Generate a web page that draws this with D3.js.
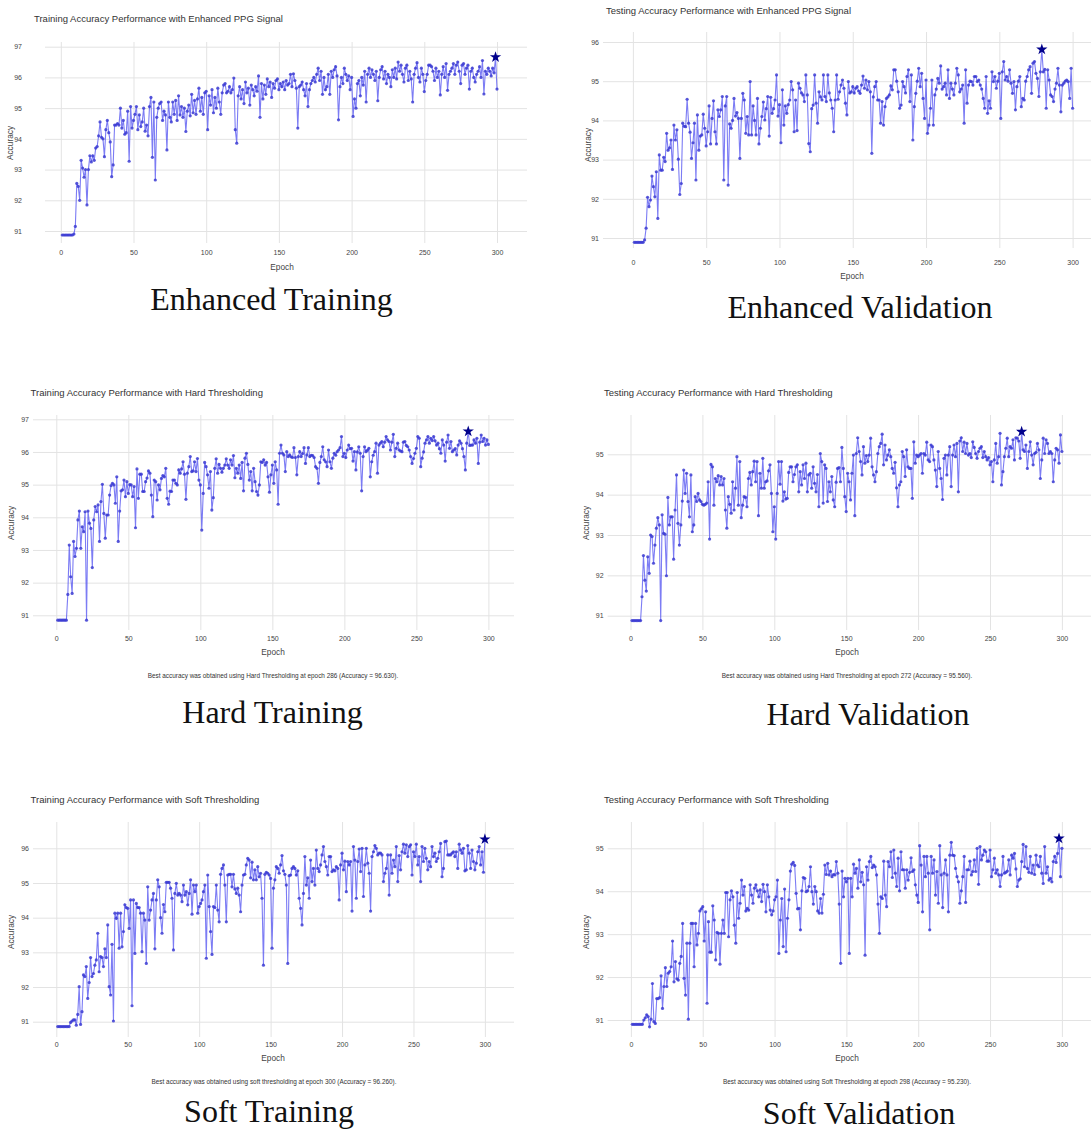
<!DOCTYPE html>
<html>
<head>
<meta charset="utf-8">
<script src="https://cdn.jsdelivr.net/npm/d3@7"></script>
<style>
  body { margin: 0; background: #fff; }
  svg { display: block; }
</style>
</head>
<body>
<svg id="chart" width="1091" height="1133"></svg>
<script>
// epochs run 1..300, one value per epoch
const epochTicks = [0, 50, 100, 150, 200, 250, 300];

const enhancedTrain = [
  90.87, 90.87, 90.87, 90.87, 90.87, 90.87, 90.87, 90.87, 90.90, 91.15,
  92.55, 92.45, 92.00, 93.30, 93.05, 92.75, 93.00, 91.85, 93.00, 93.45,
  93.25, 93.45, 93.30, 93.70, 93.75, 94.10, 94.55, 94.05, 94.00, 93.42,
  94.30, 94.60, 94.20, 93.90, 92.77, 93.15, 94.45, 94.45, 94.50, 94.45,
  95.00, 94.35, 94.60, 94.15, 94.20, 94.90, 93.27, 95.05, 94.35, 94.60,
  94.80, 95.05, 94.30, 94.78, 94.40, 94.55, 95.00, 94.25, 94.45, 94.10,
  95.05, 95.35, 93.40, 95.20, 92.66, 94.70, 95.00, 95.15, 95.20, 94.60,
  94.90, 94.78, 93.64, 95.20, 94.70, 94.55, 95.20, 94.80, 95.25, 94.60,
  95.40, 94.78, 95.05, 94.70, 95.00, 94.24, 94.90, 95.10, 94.75, 95.45,
  94.85, 95.25, 94.80, 95.30, 95.65, 94.90, 95.35, 94.80, 95.50, 95.55,
  94.30, 95.40, 95.10, 95.60, 94.85, 95.35, 95.00, 95.65, 95.20, 94.80,
  95.50, 95.75, 95.80, 95.50, 95.55, 95.70, 95.50, 95.60, 95.98, 94.30,
  93.86, 95.40, 95.70, 95.30, 95.60, 95.15, 95.85, 95.50, 95.65, 95.10,
  95.75, 95.60, 95.40, 95.70, 95.55, 96.05, 94.70, 95.80, 95.30, 95.75,
  95.45, 95.95, 95.70, 95.85, 95.35, 95.80, 95.65, 95.90, 95.95, 95.60,
  95.80, 95.70, 95.85, 95.60, 95.90, 95.75, 95.80, 96.10, 95.70, 96.12,
  95.90, 95.65, 94.35, 95.70, 95.75, 95.85, 95.60, 95.40, 95.80, 95.05,
  95.60, 95.80, 95.90, 96.00, 95.85, 96.10, 96.30, 95.90, 96.20, 95.45,
  96.00, 95.60, 95.70, 96.10, 95.45, 96.20, 96.00, 96.25, 96.35, 96.05,
  94.62, 95.70, 96.00, 95.80, 96.30, 96.10, 95.90, 96.05, 95.60, 96.00,
  94.73, 95.30, 95.00, 95.80, 95.90, 95.40, 96.00, 95.75, 96.20, 95.20,
  96.10, 96.30, 96.00, 96.25, 96.10, 95.90, 96.20, 95.24, 96.00, 96.25,
  96.35, 95.95, 96.20, 95.80, 96.10, 96.00, 95.70, 96.25, 96.00, 96.30,
  95.95, 96.50, 96.20, 96.40, 96.10, 95.85, 96.30, 96.40, 95.90, 96.20,
  95.95, 95.20, 96.10, 96.30, 96.48, 96.00, 95.85, 96.30, 96.10, 95.54,
  95.90, 96.10, 96.40, 96.40, 96.35, 96.20, 95.90, 96.30, 96.00, 96.20,
  95.43, 96.10, 96.35, 96.00, 96.45, 95.58, 96.10, 96.20, 96.30, 96.45,
  96.10, 96.40, 96.50, 96.20, 95.80, 96.40, 96.45, 96.10, 96.30, 96.40,
  95.62, 96.20, 96.30, 96.00, 95.85, 96.10, 96.20, 96.35, 96.00, 96.55,
  95.46, 96.20, 96.10, 96.30, 96.20, 96.05, 96.30, 96.15, 96.66, 95.62
];

const enhancedVal = [
  90.89, 90.89, 90.89, 90.89, 90.89, 90.89, 90.89, 90.95, 91.25, 92.04,
  91.80, 91.97, 92.58, 92.31, 92.05, 92.69, 91.50, 93.12, 92.73, 92.73,
  93.06, 92.95, 93.67, 93.24, 93.30, 93.50, 92.75, 93.88, 93.50, 93.76,
  93.01, 92.11, 92.39, 93.93, 93.85, 93.84, 94.54, 93.93, 93.70, 93.03,
  93.43, 93.93, 92.48, 94.14, 93.24, 93.60, 93.63, 94.16, 93.80, 93.35,
  93.71, 94.37, 93.40, 94.05, 94.50, 93.71, 93.40, 94.27, 94.10, 94.27,
  94.61, 92.48, 94.37, 94.61, 92.35, 93.91, 93.80, 94.00, 94.56, 94.11,
  94.20, 94.05, 93.03, 94.05, 94.69, 94.52, 93.67, 94.10, 93.63, 94.99,
  93.63, 94.37, 94.00, 93.63, 94.56, 93.40, 93.80, 94.10, 94.47, 94.01,
  94.30, 94.61, 93.60, 94.59, 94.18, 94.30, 94.52, 95.16, 94.11, 94.40,
  93.43, 94.78, 93.88, 94.37, 94.18, 94.40, 94.52, 94.99, 94.78, 93.71,
  94.52, 93.74, 94.95, 94.82, 94.70, 94.65, 94.48, 95.16, 94.65, 93.41,
  93.20, 94.30, 94.39, 95.16, 94.44, 93.93, 94.73, 94.60, 94.52, 95.16,
  94.61, 94.48, 95.16, 94.70, 94.52, 94.31, 93.71, 94.52, 95.16, 94.54,
  94.73, 94.90, 95.03, 94.82, 94.44, 94.14, 94.99, 94.70, 94.73, 94.86,
  94.70, 94.82, 94.86, 94.75, 94.69, 94.90, 95.13, 94.82, 95.03, 94.78,
  94.99, 94.73, 93.16, 94.60, 94.86, 94.99, 94.52, 94.52, 93.93, 94.48,
  93.88, 94.35, 94.56, 94.60, 94.65, 94.88, 94.78, 95.29, 95.29, 95.00,
  94.73, 94.31, 94.39, 94.99, 94.86, 94.70, 95.12, 95.29, 94.48, 95.16,
  93.50, 94.35, 94.69, 95.00, 95.33, 94.86, 95.20, 94.56, 94.05, 95.03,
  93.67, 93.88, 94.31, 95.03, 93.88, 94.65, 94.80, 95.07, 94.95, 95.39,
  94.80, 94.86, 94.95, 94.65, 95.29, 94.56, 94.95, 94.80, 94.65, 94.95,
  95.33, 95.16, 94.73, 94.80, 94.90, 93.93, 95.29, 94.44, 94.90, 95.00,
  94.99, 94.90, 95.12, 95.12, 94.99, 95.03, 94.90, 94.80, 94.56, 94.31,
  95.12, 94.18, 94.50, 94.31, 95.24, 94.99, 95.12, 94.82, 95.00, 95.20,
  94.05, 95.24, 95.50, 95.03, 95.12, 95.00, 95.29, 94.95, 94.69, 94.99,
  94.27, 94.86, 95.00, 95.12, 94.35, 94.56, 94.52, 95.00, 95.12, 95.29,
  95.37, 94.69, 95.46, 95.50, 95.20, 95.07, 94.61, 95.24, 95.81, 95.24,
  95.30, 94.31, 95.29, 95.03, 94.65, 94.61, 94.48, 94.80, 94.95, 95.33,
  94.90, 94.22, 94.90, 94.95, 95.00, 95.03, 94.99, 94.56, 95.33, 94.31
];

const hardTrain = [
  90.85, 90.85, 90.85, 90.85, 90.85, 90.85, 90.85, 91.64, 93.15, 92.18,
  91.67, 93.26, 92.80, 93.05, 93.92, 94.19, 93.05, 93.71, 93.56, 94.17,
  90.85, 94.19, 93.82, 93.66, 92.46, 93.92, 94.33, 94.17, 94.38, 93.26,
  94.48, 95.01, 94.12, 93.36, 94.07, 94.07, 94.68, 94.97, 95.04, 94.99,
  94.43, 95.24, 93.26, 94.19, 94.81, 94.84, 95.14, 94.63, 95.09, 94.73,
  95.00, 94.99, 94.63, 94.94, 93.68, 95.48, 94.58, 95.32, 95.32, 94.79,
  94.79, 95.09, 95.20, 95.42, 95.35, 94.68, 94.02, 95.14, 95.09, 94.53,
  94.99, 94.84, 95.19, 95.28, 95.24, 95.50, 94.58, 94.40, 94.80, 94.79,
  95.14, 95.14, 95.04, 94.99, 95.45, 95.35, 95.48, 95.70, 95.32, 94.55,
  95.35, 95.55, 95.86, 95.40, 95.42, 95.70, 95.40, 95.80, 95.14, 94.99,
  93.61, 94.73, 95.68, 95.55, 95.30, 94.89, 95.40, 94.22, 94.60, 95.50,
  95.79, 95.35, 95.62, 95.50, 95.38, 95.50, 95.60, 95.79, 95.60, 95.50,
  95.76, 95.60, 95.89, 95.21, 95.50, 95.35, 95.60, 95.19, 95.68, 94.81,
  95.81, 95.96, 95.62, 95.14, 95.40, 94.81, 95.50, 95.09, 94.79, 94.68,
  94.99, 95.70, 95.68, 95.76, 95.60, 95.68, 95.24, 94.77, 95.30, 95.60,
  95.04, 95.70, 95.45, 94.40, 95.96, 96.21, 95.96, 95.91, 95.40, 96.01,
  95.86, 95.91, 95.85, 95.83, 96.13, 95.83, 95.30, 95.86, 96.01, 95.86,
  95.95, 96.13, 95.65, 95.91, 96.13, 95.86, 95.90, 95.89, 95.83, 95.55,
  95.50, 95.04, 95.68, 95.86, 96.16, 95.76, 95.70, 95.55, 96.06, 95.70,
  95.50, 95.81, 95.96, 95.90, 96.01, 96.06, 96.13, 96.47, 95.86, 95.96,
  95.83, 96.06, 96.21, 96.10, 96.11, 95.72, 96.01, 95.45, 96.00, 96.16,
  95.96, 94.81, 95.86, 96.16, 96.01, 96.05, 96.11, 95.24, 95.70, 95.90,
  96.01, 96.27, 95.35, 96.21, 96.27, 96.32, 96.16, 96.30, 96.47, 96.37,
  96.32, 96.06, 96.30, 96.54, 95.86, 96.11, 96.27, 96.06, 96.03, 96.01,
  96.30, 96.32, 96.20, 96.16, 96.06, 95.86, 95.65, 95.80, 95.96, 96.11,
  96.47, 96.42, 95.55, 95.81, 96.00, 96.27, 96.37, 96.47, 96.27, 96.42,
  96.35, 96.47, 96.34, 96.21, 96.27, 96.10, 95.96, 96.37, 96.21, 95.72,
  96.30, 96.52, 96.11, 96.32, 96.01, 96.06, 96.10, 95.91, 96.21, 96.34,
  96.27, 96.10, 95.86, 95.45, 96.27, 96.63, 96.20, 96.21, 96.21, 96.37,
  96.27, 96.42, 95.65, 96.30, 96.52, 96.32, 96.42, 96.21, 96.37, 96.23
];

const hardVal = [
  90.88, 90.88, 90.88, 90.88, 90.88, 90.88, 90.88, 91.47, 92.49, 91.88,
  91.61, 92.46, 92.05, 93.00, 92.96, 92.30, 92.75, 93.17, 93.43, 93.25,
  90.88, 93.50, 93.04, 93.02, 91.99, 93.93, 93.25, 93.45, 93.45, 92.40,
  93.62, 94.49, 93.29, 92.75, 93.25, 93.84, 94.61, 94.03, 94.53, 93.83,
  93.45, 94.49, 93.08, 93.25, 93.95, 93.83, 94.03, 93.87, 93.83, 93.76,
  93.74, 93.76, 93.79, 94.32, 92.90, 94.75, 94.69, 93.74, 94.40, 94.32,
  94.47, 94.24, 94.45, 94.24, 94.40, 93.62, 93.17, 93.95, 93.76, 93.54,
  94.32, 93.62, 94.16, 94.94, 93.74, 94.82, 93.43, 93.74, 93.95, 93.93,
  93.70, 94.40, 94.55, 94.24, 94.57, 94.83, 94.32, 94.82, 93.48, 94.53,
  94.16, 94.90, 94.16, 94.32, 94.34, 94.59, 94.74, 94.03, 93.08, 93.70,
  92.90, 94.03, 94.82, 94.26, 94.82, 93.84, 94.07, 93.89, 93.91, 94.55,
  94.69, 94.69, 94.32, 94.50, 94.69, 94.74, 94.07, 94.57, 94.24, 94.74,
  94.40, 94.78, 94.07, 94.49, 94.53, 94.16, 94.69, 94.28, 94.07, 94.50,
  93.70, 95.02, 94.82, 93.79, 94.74, 94.65, 93.83, 94.32, 94.07, 94.45,
  93.87, 93.70, 94.31, 94.65, 94.67, 94.32, 95.17, 94.65, 93.95, 93.58,
  94.53, 94.32, 93.87, 94.53, 94.98, 93.48, 95.02, 95.41, 95.07, 94.82,
  94.49, 95.19, 94.78, 94.97, 94.82, 94.98, 95.40, 94.69, 94.49, 94.32,
  94.57, 95.02, 95.19, 95.27, 95.50, 94.74, 95.23, 94.86, 94.98, 95.11,
  94.94, 94.65, 94.53, 94.80, 94.17, 93.70, 94.24, 94.32, 95.07, 94.94,
  94.45, 95.11, 94.69, 94.65, 94.65, 93.91, 95.31, 94.78, 94.98, 94.94,
  94.98, 95.02, 94.53, 95.02, 94.98, 95.30, 94.86, 94.82, 95.23, 95.19,
  94.86, 94.61, 94.20, 95.07, 94.65, 94.40, 93.88, 94.90, 94.98, 94.49,
  94.98, 95.19, 94.20, 94.98, 95.23, 94.94, 95.27, 94.07, 95.33, 95.41,
  95.07, 95.30, 95.02, 95.27, 94.98, 95.02, 94.92, 95.31, 95.17, 95.02,
  94.90, 95.07, 95.15, 95.19, 94.92, 95.07, 94.94, 94.86, 94.92, 94.74,
  94.82, 94.32, 94.86, 95.27, 94.78, 94.94, 95.52, 94.24, 94.57, 94.94,
  95.15, 95.40, 94.94, 95.19, 95.15, 95.36, 94.86, 95.41, 95.40, 95.33,
  94.90, 95.56, 95.11, 95.07, 95.23, 94.65, 95.07, 95.31, 94.98, 94.74,
  95.02, 95.05, 95.27, 95.11, 94.40, 94.86, 95.40, 95.02, 95.36, 95.27,
  95.02, 95.07, 95.02, 94.32, 94.86, 95.15, 95.11, 94.78, 95.48, 95.07
];

const softTrain = [
  90.86, 90.86, 90.86, 90.86, 90.86, 90.86, 90.86, 90.86, 90.86, 90.98,
  91.02, 91.05, 91.05, 90.90, 91.21, 92.01, 90.92, 91.29, 92.35, 92.30,
  92.59, 91.67, 92.13, 92.85, 92.30, 92.39, 92.63, 92.78, 93.55, 92.44,
  92.88, 92.85, 92.59, 93.10, 92.85, 93.79, 92.01, 91.77, 93.23, 91.02,
  94.13, 93.98, 94.13, 93.12, 94.13, 93.16, 93.60, 94.37, 94.29, 94.27,
  93.69, 94.51, 91.46, 94.51, 92.97, 94.41, 94.29, 94.29, 94.13, 93.02,
  94.13, 93.93, 92.68, 94.89, 93.93, 94.22, 94.51, 94.70, 93.10, 94.51,
  95.09, 94.89, 94.00, 93.55, 94.38, 94.17, 95.02, 95.02, 95.02, 94.85,
  94.56, 93.07, 94.70, 94.99, 94.65, 94.70, 94.65, 94.46, 94.94,
  94.65, 94.75, 94.37, 94.70, 95.09, 94.10, 94.94, 94.75, 94.94, 94.13,
  94.32, 94.41, 94.51, 94.75, 94.94, 92.83, 95.23, 94.32, 93.60, 92.94,
  94.32, 94.29, 94.94, 94.22, 93.88, 95.25, 95.42, 95.52, 94.94,
  93.88, 95.23, 95.25, 95.25, 94.89, 95.25, 94.83, 94.70, 94.85,
  94.65, 94.17, 94.94, 95.23, 95.25, 95.52, 95.71, 95.66, 95.15,
  95.60, 95.09, 95.38, 95.09, 95.47, 95.18, 95.28, 94.56, 92.63,
  95.25, 95.31, 95.28, 95.23, 95.13, 93.12, 94.85, 95.09, 95.47,
  95.42, 95.28, 95.52, 95.79, 95.35, 95.25, 94.94, 92.68, 95.21, 95.23,
  95.42, 95.47, 95.42, 95.23, 95.35, 94.56, 94.27, 93.79, 94.70, 95.76,
  94.94, 95.15, 94.56, 95.66, 95.04, 95.42, 94.94, 95.95, 95.42,
  95.33, 95.52, 95.81, 96.05, 95.62, 95.47, 95.23, 95.76, 95.76, 95.33,
  95.38, 95.35, 95.47, 95.42, 94.51, 95.52, 95.86, 95.38, 95.63, 94.75,
  95.62, 95.52, 95.62, 94.19, 96.05, 95.66, 94.56, 95.62, 95.98, 95.33,
  96.00, 94.61, 95.52, 96.00, 95.57, 95.28, 94.19, 95.76, 95.90, 96.08,
  96.00, 95.81, 95.86, 95.86, 95.81, 95.04, 95.28, 95.42, 95.81, 94.65,
  95.81, 95.28, 95.66, 95.47, 96.05, 95.04, 95.79, 95.38, 95.90,
  96.12, 95.86, 96.10, 95.76, 96.05, 96.10, 95.23, 95.90, 95.76,
  96.12, 95.52, 95.76, 95.04, 96.05, 95.62, 96.00, 95.71, 95.38, 95.62,
  95.47, 96.05, 95.76, 95.86, 95.62, 95.71, 95.90, 96.14, 95.18, 95.42,
  96.19, 96.21, 95.81, 95.81, 95.81, 95.86, 95.90, 95.76, 95.90, 95.42,
  96.12, 95.95, 95.86, 96.00, 95.35,
  95.38, 96.08, 95.86, 95.42, 95.95, 95.62, 95.38, 95.57, 95.90, 96.05,
  95.52, 95.90, 95.31, 96.26
];

const softVal = [
  90.90, 90.90, 90.90, 90.90, 90.90, 90.90, 90.90, 90.90,
  91.00, 91.05, 91.12, 91.08, 90.84, 91.02, 91.85, 90.96, 90.92, 91.50,
  91.50, 91.52, 92.03, 91.27, 91.78, 92.22, 91.78, 92.09, 92.13, 92.24,
  92.84, 91.89, 92.36, 91.96, 91.93, 92.32, 92.48, 93.25, 91.97,
  91.58, 92.79, 91.02, 92.79, 93.25, 93.25, 92.24, 93.25, 92.75, 93.02,
  93.54, 93.59, 93.64, 92.84, 93.52, 91.39, 93.29, 92.58, 92.58, 93.66,
  93.33, 92.40, 93.04, 93.02, 92.30, 93.02, 93.33, 93.02, 93.97,
  93.97, 92.94, 93.80, 94.01, 93.87, 93.21, 92.79, 93.97, 93.37, 93.72,
  94.26, 93.91, 94.11, 93.54, 93.60, 93.56, 94.15, 93.91, 93.72,
  94.07, 94.15, 94.01, 93.87, 94.03, 93.76, 94.16, 93.99, 93.52, 94.15,
  93.87, 93.56, 93.45, 93.54, 93.80, 93.87, 94.26, 92.55, 93.33,
  93.83, 92.71, 94.05, 92.59, 93.37, 93.80, 94.47, 94.63, 94.67, 94.60,
  93.95, 93.59, 93.60, 93.10, 94.01, 94.32, 94.30, 93.99, 94.01, 94.11,
  94.57, 93.99, 93.70, 94.11, 93.99, 93.54, 93.49, 93.83, 93.49,
  93.93, 94.61, 94.39, 94.65, 94.38, 94.47, 94.34, 94.39, 94.38, 94.69,
  94.42, 93.70, 92.32, 94.47, 93.87, 94.30, 94.22, 94.30, 92.55, 94.30,
  93.87, 94.63, 94.42, 94.53, 94.07, 94.73, 94.22, 94.44, 94.15,
  92.51, 94.57, 94.26, 94.69, 94.81, 94.55, 94.61, 94.57, 94.38, 93.70,
  93.02, 93.87, 93.83, 94.70, 93.91, 93.64, 94.69, 94.57, 94.92, 94.32,
  94.96, 94.42, 94.11, 94.77, 94.01, 94.92, 94.50, 94.50, 94.07,
  94.50, 94.26, 94.44, 94.78, 94.46, 94.50, 94.15, 93.91, 93.74, 95.06,
  94.61, 93.52, 94.81, 94.34, 94.81, 94.42, 93.10, 94.81, 94.42, 94.73,
  93.91, 94.46, 93.72, 95.06, 94.38, 93.62, 94.42, 94.73, 94.38,
  93.52, 94.84, 95.14, 94.84, 94.83, 94.53, 94.34, 94.22, 93.72, 94.01,
  94.34, 94.81, 93.74, 94.50, 94.50, 94.70, 94.38, 94.46, 94.73,
  94.46, 95.00, 94.16, 95.04, 94.73, 94.84, 94.96, 94.92, 94.70, 94.70,
  94.96, 94.34, 94.50, 94.77, 94.42, 94.50, 94.38, 94.11, 94.38, 94.81,
  94.42, 94.44, 94.47, 94.73, 94.38, 94.84, 94.77, 94.88, 94.52,
  94.11, 94.26, 94.29, 94.69, 95.09, 94.57, 95.04, 94.53, 94.44, 94.81,
  94.42, 94.61, 94.39, 94.84, 94.61, 94.57, 94.81, 94.42, 94.18,
  95.04, 94.42, 94.57, 94.26, 94.30, 94.22, 94.69, 94.81, 94.67, 94.88,
  95.23, 94.34, 95.00
];

// y tick labels of each panel
const ticksEnhancedTrain = [91, 92, 93, 94, 95, 96, 97];
const ticksEnhancedVal = [91, 92, 93, 94, 95, 96];
const ticksHardTrain = [91, 92, 93, 94, 95, 96, 97];
const ticksHardVal = [91, 92, 93, 94, 95];
const ticksSoftTrain = [91, 92, 93, 94, 95, 96];
const ticksSoftVal = [91, 92, 93, 94, 95];

const panels = [
  {
    series: enhancedTrain, yTicks: ticksEnhancedTrain,
    title: 'Training Accuracy Performance with Enhanced PPG Signal',
    note: null, caption: 'Enhanced Training',
    x0: 60.8, x1: 497, yLo: 231, yHi: 46.7, gl: 45, gr: 527, gt: 42, gb: 243, pad: 23,
    titleX: 34, titleY: 22, tickY: 255, axisX: 282, axisY: 270, accX: 10, accY: 143,
    noteY: 0, capX: 271.5, capY: 310
  },
  {
    series: enhancedVal, yTicks: ticksEnhancedVal,
    title: 'Testing Accuracy Performance with Enhanced PPG Signal',
    note: null, caption: 'Enhanced Validation',
    x0: 632.9, x1: 1072.6, yLo: 238, yHi: 42, gl: 603, gr: 1091, gt: 32, gb: 248, pad: 4,
    titleX: 606, titleY: 13.5, tickY: 264.5, axisX: 852, axisY: 278.5, accX: 588, accY: 145,
    noteY: 0, capX: 860, capY: 318
  },
  {
    series: hardTrain, yTicks: ticksHardTrain,
    title: 'Training Accuracy Performance with Hard Thresholding',
    note: 'Best accuracy was obtained using Hard Thresholding at epoch 286 (Accuracy = 96.630).',
    caption: 'Hard Training',
    x0: 56.3, x1: 488.4, yLo: 615.3, yHi: 419.3, gl: 33, gr: 514, gt: 415, gb: 630, pad: 4,
    titleX: 30.6, titleY: 395.5, tickY: 641, axisX: 273, axisY: 654.5, accX: 11, accY: 523,
    noteX: 273, noteY: 678, capX: 272.5, capY: 722.5
  },
  {
    series: hardVal, yTicks: ticksHardVal,
    title: 'Testing Accuracy Performance with Hard Thresholding',
    note: 'Best accuracy was obtained using Hard Thresholding at epoch 272 (Accuracy = 95.560).',
    caption: 'Hard Validation',
    x0: 630.5, x1: 1061.9, yLo: 615.7, yHi: 454.3, gl: 607.6, gr: 1091, gt: 415, gb: 630, pad: 4,
    titleX: 604, titleY: 395.5, tickY: 641, axisX: 847, axisY: 654.5, accX: 586, accY: 523,
    noteX: 847, noteY: 678, capX: 868, capY: 725
  },
  {
    series: softTrain, yTicks: ticksSoftTrain,
    title: 'Training Accuracy Performance with Soft Thresholding',
    note: 'Best accuracy was obtained using soft thresholding at epoch 300 (Accuracy = 96.260).',
    caption: 'Soft Training',
    x0: 56.3, x1: 484.9, yLo: 1021.7, yHi: 848.3, gl: 33, gr: 514, gt: 822, gb: 1037, pad: 4,
    titleX: 30.6, titleY: 803, tickY: 1047, axisX: 273, axisY: 1061, accX: 11, accY: 932,
    noteX: 274, noteY: 1083.5, capX: 269, capY: 1122
  },
  {
    series: softVal, yTicks: ticksSoftVal,
    title: 'Testing Accuracy Performance with Soft Thresholding',
    note: 'Best accuracy was obtained using Soft Thresholding at epoch 298 (Accuracy = 95.230).',
    caption: 'Soft Validation',
    x0: 630.9, x1: 1061.9, yLo: 1020, yHi: 848.3, gl: 607.6, gr: 1091, gt: 822, gb: 1037, pad: 4,
    titleX: 604, titleY: 803, tickY: 1047, axisX: 847, axisY: 1061, accX: 586, accY: 932,
    noteX: 847, noteY: 1083.5, capX: 859, capY: 1124
  }
];

const svg = d3.select('#chart');
const sans = "'Liberation Sans', Arial, sans-serif";
const serif = "'Liberation Serif', 'Times New Roman', serif";

svg.append('rect').attr('width', 1091).attr('height', 1133).attr('fill', '#fff');

panels.forEach((p) => {
  if (p.series.length !== 300) console.error(p.caption + ' has ' + p.series.length + ' points');

  const xScale = d3.scaleLinear().domain([0, 300]).range([p.x0, p.x1]);
  const yScale = d3
    .scaleLinear()
    .domain([p.yTicks[0], p.yTicks[p.yTicks.length - 1]])
    .range([p.yLo, p.yHi]);

  const g = svg.append('g');

  // horizontal grid + y labels
  g.append('g')
    .attr('transform', 'translate(' + p.gl + ',0)')
    .call(
      d3.axisLeft(yScale)
        .tickValues(p.yTicks)
        .tickSize(-(p.gr - p.gl))
        .tickPadding(p.pad)
        .tickFormat(d3.format('d'))
    )
    .call((a) => a.select('.domain').remove())
    .call((a) => a.selectAll('line').attr('stroke', '#e3e3e3').attr('stroke-width', 1))
    .call((a) =>
      a.selectAll('text').attr('fill', '#444').attr('font-family', sans).attr('font-size', '7px')
    );

  // vertical grid + x labels
  g.append('g')
    .attr('transform', 'translate(0,' + p.gb + ')')
    .call(d3.axisBottom(xScale).tickValues(epochTicks).tickSize(-(p.gb - p.gt)))
    .call((a) => a.select('.domain').remove())
    .call((a) => a.selectAll('line').attr('stroke', '#e3e3e3').attr('stroke-width', 1))
    .call((a) =>
      a.selectAll('text')
        .attr('y', p.tickY - p.gb)
        .attr('dy', null)
        .attr('fill', '#444')
        .attr('font-family', sans)
        .attr('font-size', '7px')
    );

  // title
  g.append('text')
    .attr('x', p.titleX)
    .attr('y', p.titleY)
    .attr('font-family', sans)
    .attr('font-size', '9.5px')
    .attr('fill', '#333')
    .text(p.title);

  // axis titles
  g.append('text')
    .attr('x', p.axisX)
    .attr('y', p.axisY)
    .attr('text-anchor', 'middle')
    .attr('font-family', sans)
    .attr('font-size', '8.3px')
    .attr('fill', '#444')
    .text('Epoch');

  g.append('text')
    .attr('transform', 'translate(' + p.accX + ',' + p.accY + ') rotate(-90)')
    .attr('text-anchor', 'middle')
    .attr('dy', '0.35em')
    .attr('font-family', sans)
    .attr('font-size', '8.3px')
    .attr('fill', '#444')
    .text('Accuracy');

  // accuracy line and markers
  const line = d3.line()
    .x((d, i) => xScale(i + 1))
    .y((d) => yScale(d));

  g.append('path')
    .datum(p.series)
    .attr('fill', 'none')
    .attr('stroke', 'rgba(80,80,240,0.75)')
    .attr('stroke-width', 1.1)
    .attr('d', line);

  g.selectAll('.pt')
    .data(p.series)
    .enter()
    .append('circle')
    .attr('class', 'pt')
    .attr('cx', (d, i) => xScale(i + 1))
    .attr('cy', (d) => yScale(d))
    .attr('r', 1.6)
    .attr('fill', 'rgba(60,60,210,0.85)');

  // best epoch star
  const best = d3.maxIndex(p.series);
  g.append('path')
    .attr('d', d3.symbol(d3.symbolStar, 40)())
    .attr('transform', 'translate(' + xScale(best + 1) + ',' + yScale(p.series[best]) + ')')
    .attr('fill', '#00008b');

  if (p.note) {
    g.append('text')
      .attr('x', p.noteX)
      .attr('y', p.noteY)
      .attr('text-anchor', 'middle')
      .attr('font-family', sans)
      .attr('font-size', '6.4px')
      .attr('fill', '#333')
      .text(p.note);
  }

  // caption under each chart
  svg.append('text')
    .attr('x', p.capX)
    .attr('y', p.capY)
    .attr('text-anchor', 'middle')
    .attr('font-family', serif)
    .attr('font-size', '32px')
    .attr('fill', '#111')
    .text(p.caption);
});
</script>
</body>
</html>
